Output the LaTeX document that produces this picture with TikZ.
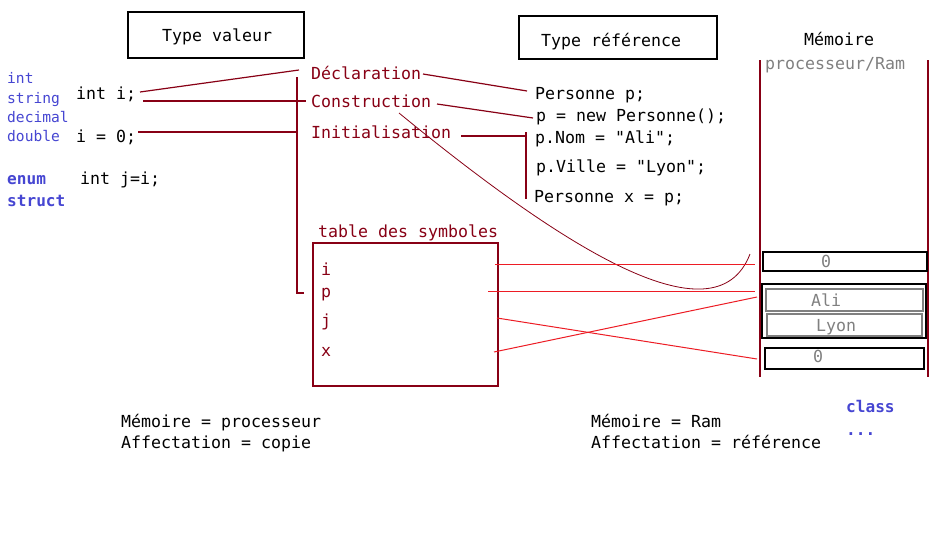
\documentclass[tikz,border=0pt]{standalone}
\usepackage{fontspec}
\setmainfont{DejaVu Sans Mono}[Ligatures=TeXOff]
\definecolor{dred}{RGB}{136,0,21}
\definecolor{bred}{RGB}{237,28,36}
\definecolor{kwblue}{RGB}{70,70,210}
\definecolor{mgray}{RGB}{128,128,128}
\begin{document}
\begin{tikzpicture}[x=1pt,y=-1pt,
  txt/.style={anchor=base west,inner sep=0pt,font=\fontsize{16.6}{18}\selectfont},
  kw/.style={txt,text=kwblue,font=\fontsize{14.6}{16}\selectfont},
  kwb/.style={txt,text=kwblue,font=\fontsize{16.1}{18}\selectfont\bfseries},
  rtxt/.style={txt,text=dred},
  gtxt/.style={txt,text=mgray},
  dline/.style={draw=dred,line width=1.2pt},
  thinline/.style={draw=dred,line width=0.8pt},
  rline/.style={draw=bred,line width=1pt},
  blackbox/.style={draw=black,line width=1.2pt},
  graybox/.style={draw=mgray,line width=1.2pt}]
\useasboundingbox (0,0) rectangle (948,533);
\fill[white] (0,0) rectangle (948,533);

% title boxes
\draw[blackbox] (128,12) rectangle (304,58);
\node[txt] (tv) at (162,41) {Type valeur};
\draw[blackbox] (519,16) rectangle (717,59);
\node[txt] (tr) at (541,46) {Type référence};
\node[txt] (mem) at (804,45) {Mémoire};
\node[gtxt] (pr) at (765,69) {processeur/Ram};

% left keywords
\node[kw] (k1) at (7,83) {int};
\node[kw] (k2) at (7,103) {string};
\node[kw] (k3) at (7,122) {decimal};
\node[kw] (k4) at (7,141) {double};
\node[kwb] (k5) at (7,184) {enum};
\node[kwb] (k6) at (7,206) {struct};

% value type code
\node[txt] (ci) at (76,99) {int i;};
\node[txt] (c0) at (76,142) {i = 0;};
\node[txt] (cj) at (80,184) {int j=i;};

% steps
\node[rtxt] (decl) at (311,79) {Déclaration};
\node[rtxt] (cons) at (311,107) {Construction};
\node[rtxt] (init) at (311,138) {Initialisation};

% reference code
\node[txt] (pp) at (535,99) {Personne p;};
\node[txt] (pn) at (536,121) {p = new Personne();};
\node[txt] (pnom) at (535,143) {p.Nom = "Ali";};
\node[txt] (pv) at (536,172) {p.Ville = "Lyon";};
\node[txt] (px) at (534,202) {Personne x = p;};

% connectors (dark red)
\coordinate (a1) at (140,92);  \coordinate (a2) at (299,70);
\coordinate (b1) at (143,101); \coordinate (b2) at (306,101);
\coordinate (c1) at (138,132); \coordinate (c2) at (297,132);
\coordinate (v1) at (297,77);  \coordinate (v2) at (297,293); \coordinate (v3) at (304,293);
\coordinate (d1) at (423,74);  \coordinate (d2) at (527,91);
\coordinate (e1) at (437,104); \coordinate (e2) at (533,118);
\coordinate (f1) at (461,136); \coordinate (f2) at (526,136);
\coordinate (w1) at (526,132); \coordinate (w2) at (526,199);
\draw[dline] (a1) -- (a2);
\draw[dline] (b1) -- (b2);
\draw[dline] (c1) -- (c2);
\draw[dline] (v1) -- (v2) -- (v3);
\draw[dline] (d1) -- (d2);
\draw[dline] (e1) -- (e2);
\draw[dline] (f1) -- (f2);
\draw[dline] (w1) -- (w2);

% curve
\coordinate (q1) at (399,113); \coordinate (q2) at (750,254);
\draw[thinline] (q1) .. controls (560,245) and (715,345) .. (q2);

% symbol table
\node[rtxt] (ts) at (318,237) {table des symboles};
\draw[dred,line width=1.2pt] (313,243) rectangle (498,386);
\node[rtxt] (si) at (321,275) {i};
\node[rtxt] (sp) at (321,297) {p};
\node[rtxt] (sj) at (321,326) {j};
\node[rtxt] (sx) at (321,356) {x};

% memory
\coordinate (m1) at (760,60); \coordinate (m2) at (760,377);
\coordinate (m3) at (928,60); \coordinate (m4) at (928,377);
\draw[dline] (m1) -- (m2);
\draw[dline] (m3) -- (m4);
\draw[blackbox] (763,252) rectangle (927,271);
\node[gtxt] (z1) at (821,267) {0};
\draw[blackbox] (762,284) rectangle (926,338);
\draw[graybox] (766,289) rectangle (923,311);
\node[gtxt] (ali) at (811,306) {Ali};
\draw[graybox] (767,314) rectangle (922,336);
\node[gtxt] (lyon) at (816,331) {Lyon};
\draw[blackbox] (765,348) rectangle (924,369);
\node[gtxt] (z2) at (813,362) {0};

% red links
\coordinate (ri1) at (495,264); \coordinate (ri2) at (755,264);
\coordinate (rp1) at (488,291); \coordinate (rp2) at (755,291);
\coordinate (rj1) at (497,318); \coordinate (rj2) at (757,359);
\coordinate (rx1) at (494,352); \coordinate (rx2) at (757,297);
\draw[rline] (ri1) -- (ri2);
\draw[rline] (rp1) -- (rp2);
\draw[rline] (rj1) -- (rj2);
\draw[rline] (rx1) -- (rx2);

% bottom texts
\node[txt] (b1t) at (121,427) {Mémoire = processeur};
\node[txt] (b2t) at (121,448) {Affectation = copie};
\node[txt] (b3t) at (591,427) {Mémoire = Ram};
\node[txt] (b4t) at (591,448) {Affectation = référence};
\node[kwb] (cls) at (846,412) {class};
\node[kwb] (dots) at (846,435) {...};
\end{tikzpicture}
\end{document}
